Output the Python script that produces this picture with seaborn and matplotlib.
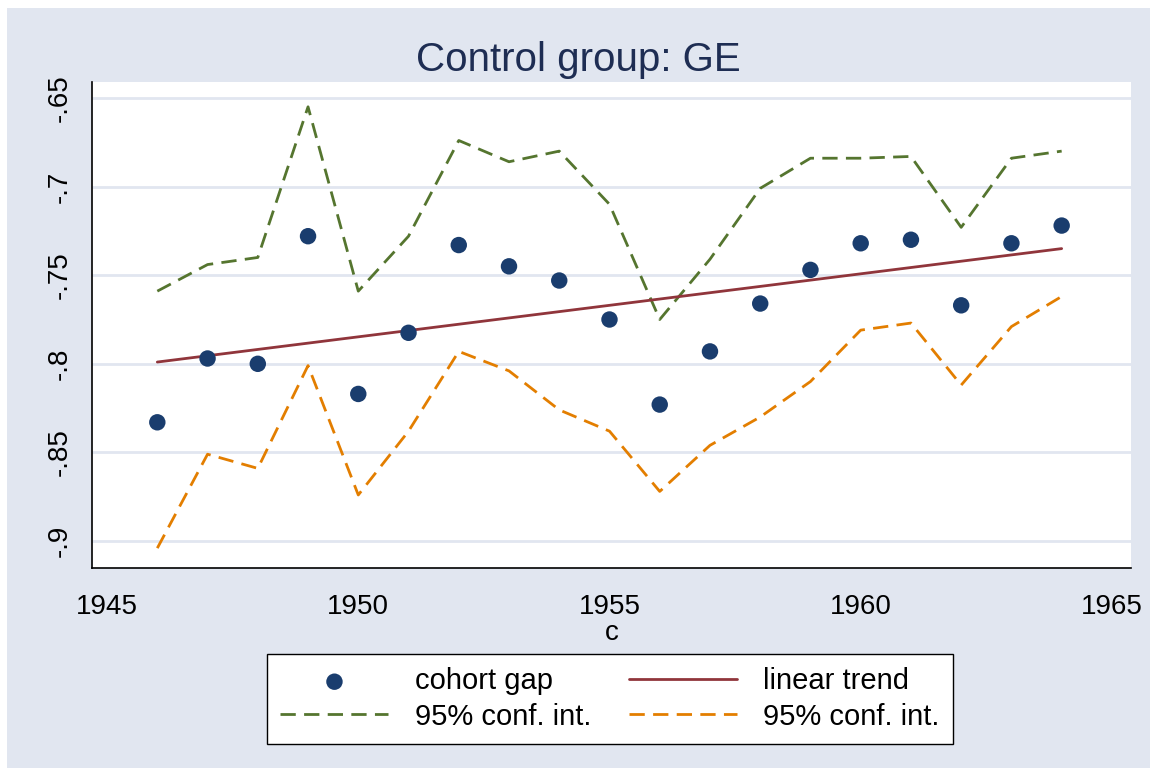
import numpy as np
import pandas as pd
import seaborn as sns
import matplotlib.pyplot as plt
from matplotlib.patches import Rectangle

years = list(range(1946, 1965))
cohort_gap = [-0.833, -0.797, -0.800, -0.728, -0.817, -0.7825, -0.733, -0.745, -0.753, -0.775,
              -0.823, -0.793, -0.766, -0.747, -0.732, -0.730, -0.767, -0.732, -0.722]
ci_upper = [-0.759, -0.744, -0.740, -0.655, -0.759, -0.728, -0.674, -0.686, -0.680, -0.710,
            -0.775, -0.741, -0.701, -0.684, -0.684, -0.683, -0.723, -0.684, -0.680]
ci_lower = [-0.904, -0.851, -0.859, -0.801, -0.874, -0.838, -0.793, -0.804, -0.826, -0.838,
            -0.872, -0.846, -0.830, -0.810, -0.781, -0.777, -0.812, -0.779, -0.762]
trend_x = [1946, 1964]
trend_y = [-0.799, -0.735]
yticks = [-0.65, -0.7, -0.75, -0.8, -0.85, -0.9]
ytick_labels = ['-.65', '-.7', '-.75', '-.8', '-.85', '-.9']
xticks = [1945, 1950, 1955, 1960, 1965]

df = pd.DataFrame({'c': years, 'gap': cohort_gap, 'hi': ci_upper, 'lo': ci_lower})
trend = pd.DataFrame({'c': trend_x, 'fit': trend_y})

sns.set_style('white')
plt.rcParams['font.family'] = ['Liberation Sans', 'DejaVu Sans']
plt.rcParams['text.color'] = 'black'
plt.rcParams['xtick.color'] = 'black'
plt.rcParams['ytick.color'] = 'black'
plt.rcParams['axes.labelcolor'] = 'black'

bg = '#e1e6f0'
navy = '#1a3d6e'
maroon = '#90353b'
green = '#55752f'
orange = '#e37e00'

fig = plt.figure(figsize=(11.57, 7.76), dpi=100, facecolor='white')
fig.patches.append(Rectangle((7 / 1157, 8 / 776), 1143 / 1157, 760 / 776,
                             transform=fig.transFigure, facecolor=bg, edgecolor='none', zorder=-10))
ax = fig.add_axes([92 / 1157, 1 - 568 / 776, (1131 - 92) / 1157, (568 - 82) / 776])
ax.set_facecolor('white')

dash = (0, (5.5, 3))
sns.scatterplot(data=df, x='c', y='gap', ax=ax, color=navy, s=140, edgecolor='none',
                label='cohort gap', zorder=5)
sns.lineplot(data=df, x='c', y='hi', ax=ax, color=green, lw=2, linestyle=dash,
             label='95% conf. int.')
sns.lineplot(data=trend, x='c', y='fit', ax=ax, color=maroon, lw=2, label='linear trend')
sns.lineplot(data=df, x='c', y='lo', ax=ax, color=orange, lw=2, linestyle=dash,
             label='95% conf. int.')

ax.set_xlim(1944.70, 1965.38)
ax.set_ylim(-0.9152, -0.641)
ax.set_yticks(yticks)
ax.set_yticklabels(ytick_labels, rotation=90, va='center', fontsize=20)
ax.set_xticks(xticks)
ax.set_xticklabels([str(x) for x in xticks], fontsize=20)
ax.tick_params(axis='x', length=8, width=1, direction='out', pad=11)
ax.tick_params(axis='y', length=8, width=1, direction='out', pad=6)
ax.grid(axis='y', color=bg, lw=2)
ax.set_axisbelow(True)
for side in ['top', 'right']:
    ax.spines[side].set_visible(False)
for side in ['left', 'bottom']:
    ax.spines[side].set_color('black')
    ax.spines[side].set_linewidth(1.2)

ax.set_xlabel('c', fontsize=20, labelpad=0)
ax.set_ylabel('')
fig.text(0.5, 1 - 60 / 776, 'Control group: GE', ha='center', va='center',
         fontsize=29, color='#1e2d53')

h, l = ax.get_legend_handles_labels()
ax.legend_.remove()
leg = fig.legend(h, l, ncol=2, loc='center', bbox_to_anchor=(610 / 1157, 1 - 699 / 776),
                 fontsize=21, frameon=True, fancybox=False, edgecolor='black',
                 facecolor='white', framealpha=1,
                 handlelength=3.7, handletextpad=0.9, columnspacing=1.3, labelspacing=0.25,
                 borderpad=0.45, markerscale=1.0)
leg.get_frame().set_linewidth(1.0)

fig.savefig('out.png', dpi=100, facecolor='white')
